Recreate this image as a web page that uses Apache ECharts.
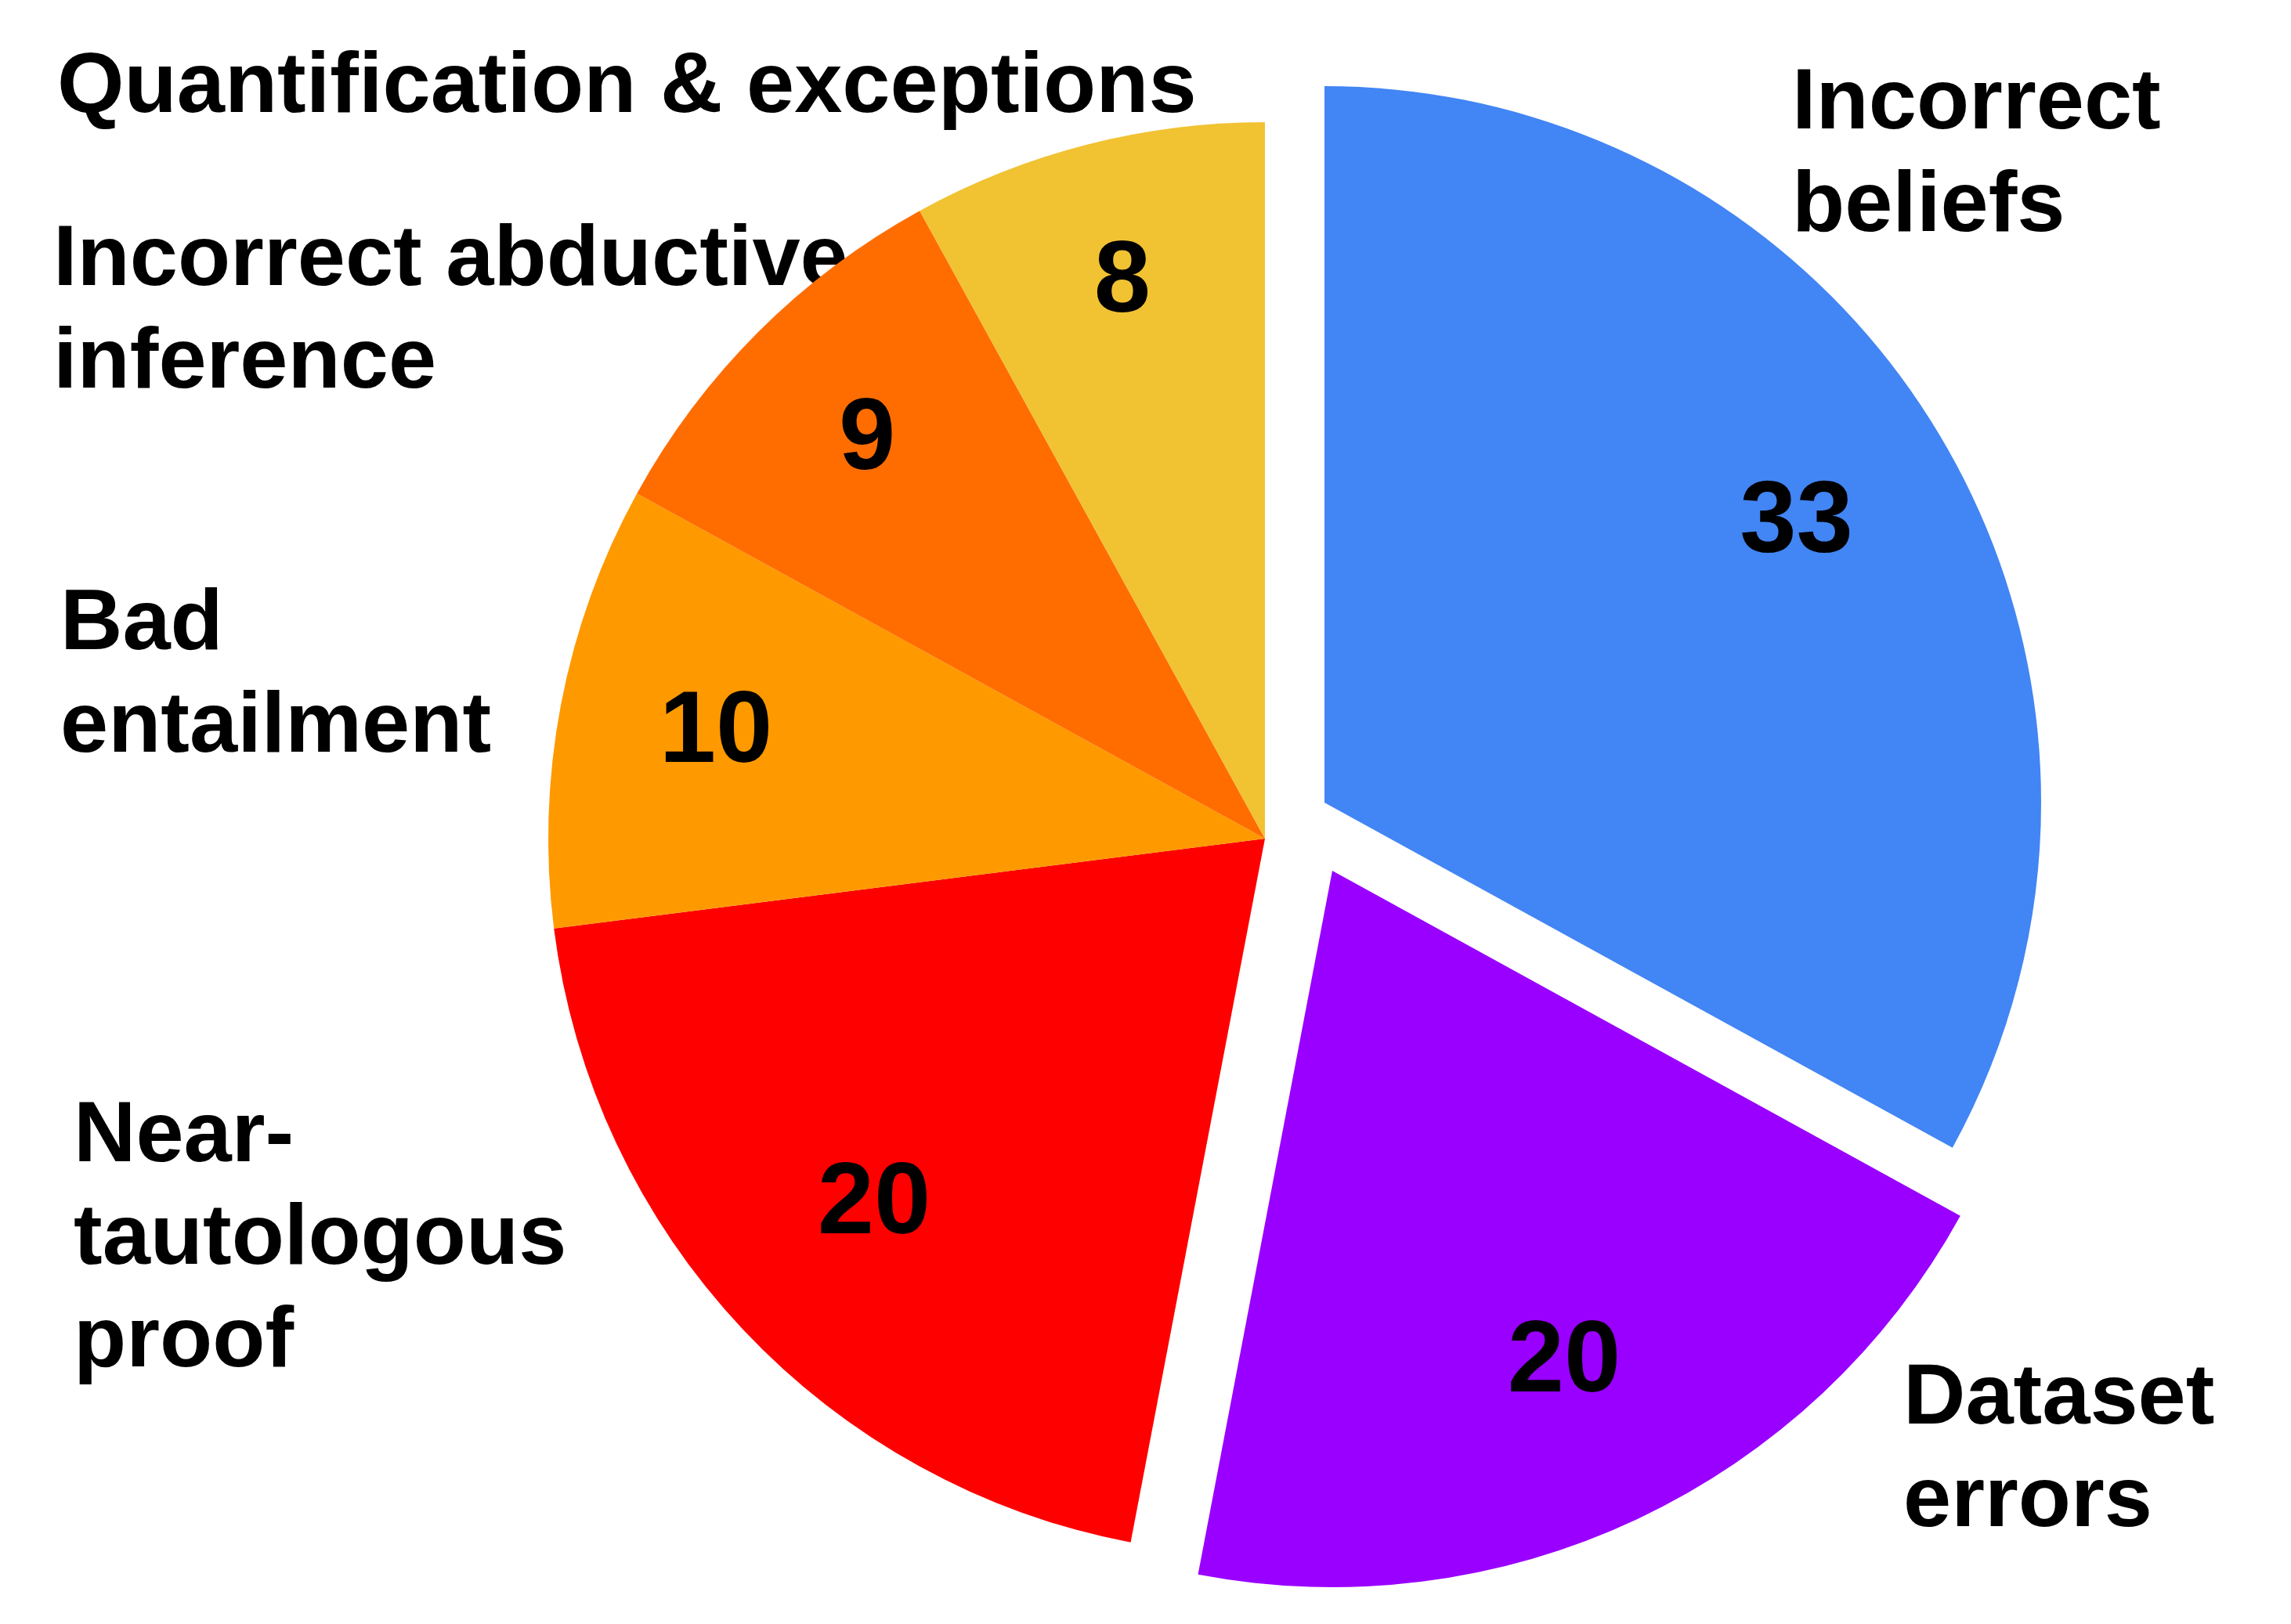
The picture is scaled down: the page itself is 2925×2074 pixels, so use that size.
<!DOCTYPE html>
<html>
<head>
<meta charset="utf-8">
<script src="https://cdn.jsdelivr.net/npm/echarts@6/dist/echarts.min.js"></script>
<style>
html,body{margin:0;padding:0;background:#fff;}
#chart{width:2925px;height:2074px;}
</style>
</head>
<body>
<div id="chart"></div>
<script>
// ---- data ----
const categories = ['Incorrect beliefs', 'Dataset errors', 'Near-tautologous proof', 'Bad entailment', 'Incorrect abductive inference', 'Quantification & exceptions'];
const values = [33, 20, 20, 10, 9, 8];
const nameLabels = ['Incorrect\nbeliefs', 'Dataset\nerrors', 'Near-\ntautologous\nproof', 'Bad\nentailment', 'Incorrect abductive\ninference', 'Quantification & exceptions'];

// ---- styles / layout ----
const colors = ['#4285F4', '#9900FF', '#FF0000', '#FF9900', '#FF6D01', '#F1C232'];
const R = 915;
const labelRadius = [0.765, 0.76, 0.748, 0.78, 0.785, 0.80];
const groups = [
  { center: [1615, 1071], members: [2, 3, 4, 5] },
  { center: [1691, 1025], members: [0] },
  { center: [1701, 1112], members: [1] }
];
const namePos = [[2288, 68], [2430, 1722], [94, 1387], [77, 733], [68, 268], [73, 47]];
const FONT = '"Liberation Sans", Arial, sans-serif';

const total = values.reduce((a, b) => a + b, 0);
function midAngle(i) {
  let before = 0;
  for (let j = 0; j < i; j++) before += values[j];
  const a0 = 90 - before / total * 360;
  const a1 = a0 - values[i] / total * 360;
  return (a0 + a1) / 2 * Math.PI / 180;
}

const series = groups.map(g => ({
  type: 'pie',
  center: g.center,
  radius: [0, R],
  startAngle: 90,
  clockwise: true,
  silent: true,
  animation: false,
  avoidLabelOverlap: false,
  label: {
    show: true, position: 'inside', formatter: '{c}',
    fontSize: 130, fontWeight: 'bold', color: '#000', fontFamily: FONT
  },
  labelLine: { show: false },
  labelLayout: p => {
    const a = midAngle(p.dataIndex);
    const k = labelRadius[p.dataIndex];
    return { x: g.center[0] + k * R * Math.cos(a), y: g.center[1] - k * R * Math.sin(a), align: 'center', verticalAlign: 'middle' };
  },
  emphasis: { disabled: true },
  itemStyle: { borderWidth: 0 },
  data: categories.map((n, i) => ({
    name: n,
    value: values[i],
    itemStyle: { color: g.members.includes(i) ? colors[i] : 'rgba(0,0,0,0)' },
    label: { show: g.members.includes(i) }
  }))
}));

const chart = echarts.init(document.getElementById('chart'), null, { renderer: 'canvas' });
chart.setOption({
  backgroundColor: '#fff',
  animation: false,
  series: series,
  graphic: nameLabels.map((t, i) => ({
    type: 'text',
    x: namePos[i][0],
    y: namePos[i][1],
    silent: true,
    style: {
      text: t,
      fontSize: 110,
      fontWeight: 'bold',
      fontFamily: FONT,
      fill: '#000',
      lineHeight: 131,
      align: 'left',
      verticalAlign: 'top'
    }
  }))
});
</script>
</body>
</html>
